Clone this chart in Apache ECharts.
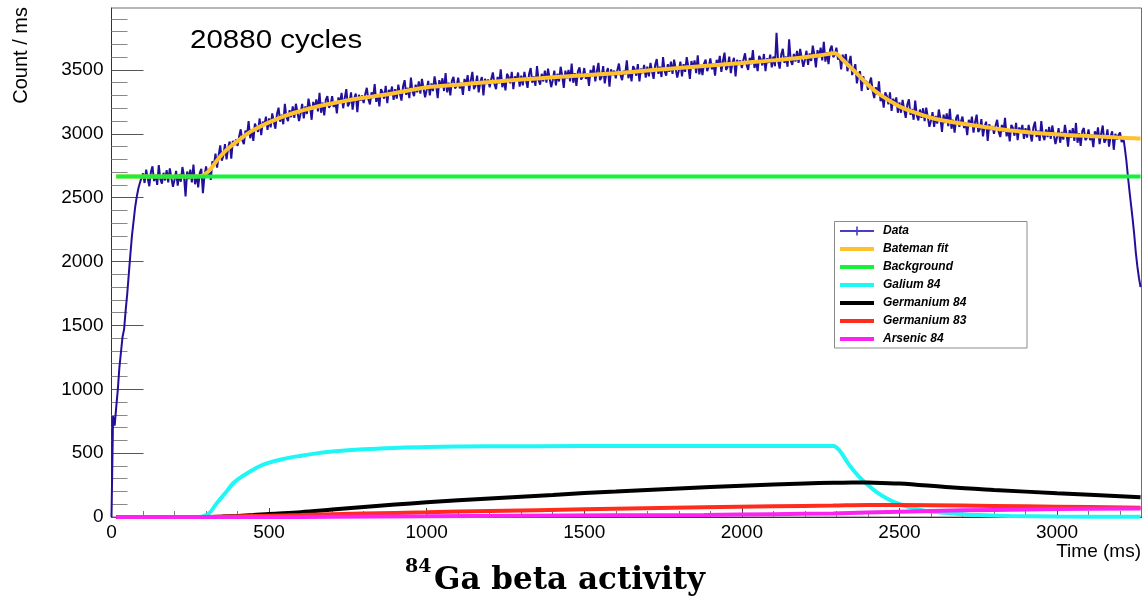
<!DOCTYPE html>
<html>
<head>
<meta charset="utf-8">
<title>84Ga beta activity</title>
<script src="https://cdn.jsdelivr.net/npm/echarts@6/dist/echarts.min.js"></script>
<style>
  html, body { margin: 0; padding: 0; background: #fff; }
  #chart { width: 1143px; height: 603px; }
</style>
</head>
<body>
<div id="chart"></div>
<script>
// ---------- axis ranges and ticks ----------
const X_MIN = 0, X_MAX = 3268;
const Y_MIN = 0, Y_MAX = 3985;
const X_MAJOR_TICKS = [0, 500, 1000, 1500, 2000, 2500, 3000];
const X_MINOR_TICKS = [100, 200, 300, 400, 600, 700, 800, 900, 1100, 1200, 1300, 1400,
  1600, 1700, 1800, 1900, 2100, 2200, 2300, 2400, 2600, 2700, 2800, 2900, 3100, 3200];
const Y_MAJOR_TICKS = [0, 500, 1000, 1500, 2000, 2500, 3000, 3500];
const Y_MINOR_TICKS = [100, 200, 300, 400, 600, 700, 800, 900, 1100, 1200, 1300, 1400,
  1600, 1700, 1800, 1900, 2100, 2200, 2300, 2400, 2600, 2700, 2800, 2900,
  3100, 3200, 3300, 3400, 3600, 3700, 3800, 3900];

// ---------- measured counts (Count / ms), 5 ms bins starting at 0 ms ----------
const DATA_T0 = 0;
const DATA_BIN = 5;
const DATA_COUNTS = [
  0, 790, 715, 860, 995, 1170, 1290, 1410, 1470, 1620, 1750, 1905, 2060, 2205, 2315, 2425, 2505, 2570, 2615, 2655,
  2690, 2615, 2720, 2650, 2590, 2700, 2745, 2630, 2680, 2600, 2755, 2645, 2610, 2695, 2635, 2715, 2620, 2730, 2655, 2585,
  2640, 2710, 2595, 2685, 2625, 2740, 2670, 2510, 2705, 2645, 2720, 2620, 2760, 2605, 2680, 2580, 2695, 2725, 2535, 2670,
  2745, 2670, 2725, 2640, 2785, 2750, 2845, 2735, 2830, 2910, 2790, 2830, 2920, 2800, 2890, 2940, 2805, 2945, 2910, 2955,
  2905, 2980, 3035, 2950, 2920, 3025, 2985, 3100, 2965, 3035, 2945, 3080, 3065, 3015, 3120, 2990, 3095, 3070, 3135, 3030,
  3120, 3050, 3160, 3095, 3040, 3155, 3205, 3095, 3150, 3075, 3235, 3130, 3100, 3185, 3130, 3215, 3125, 3235, 3165, 3100,
  3160, 3235, 3120, 3215, 3155, 3275, 3210, 3110, 3250, 3195, 3270, 3175, 3320, 3165, 3245, 3145, 3265, 3295, 3205, 3225,
  3295, 3210, 3255, 3160, 3285, 3240, 3320, 3200, 3280, 3350, 3215, 3240, 3325, 3190, 3275, 3315, 3170, 3305, 3260, 3300,
  3240, 3310, 3360, 3270, 3230, 3325, 3280, 3390, 3250, 3310, 3215, 3350, 3325, 3275, 3375, 3240, 3345, 3310, 3370, 3265,
  3350, 3275, 3385, 3315, 3260, 3370, 3420, 3305, 3360, 3280, 3440, 3330, 3295, 3385, 3325, 3410, 3315, 3430, 3355, 3285,
  3345, 3415, 3300, 3395, 3335, 3450, 3380, 3280, 3420, 3360, 3435, 3335, 3475, 3325, 3400, 3300, 3415, 3445, 3355, 3375,
  3440, 3355, 3400, 3305, 3430, 3380, 3460, 3335, 3420, 3485, 3350, 3375, 3455, 3325, 3405, 3445, 3300, 3430, 3390, 3425,
  3365, 3430, 3480, 3390, 3350, 3445, 3395, 3505, 3365, 3425, 3340, 3470, 3445, 3395, 3485, 3350, 3450, 3415, 3480, 3370,
  3455, 3380, 3485, 3420, 3360, 3470, 3515, 3400, 3450, 3375, 3530, 3420, 3385, 3470, 3410, 3495, 3400, 3510, 3435, 3365,
  3420, 3495, 3380, 3470, 3410, 3525, 3455, 3360, 3495, 3435, 3500, 3410, 3550, 3400, 3475, 3375, 3490, 3520, 3425, 3445,
  3515, 3430, 3475, 3375, 3500, 3450, 3535, 3410, 3490, 3555, 3420, 3445, 3530, 3395, 3475, 3515, 3370, 3505, 3460, 3495,
  3435, 3500, 3550, 3460, 3420, 3495, 3465, 3575, 3435, 3495, 3410, 3530, 3505, 3455, 3545, 3410, 3510, 3475, 3540, 3440,
  3525, 3450, 3555, 3490, 3430, 3540, 3585, 3470, 3525, 3445, 3600, 3490, 3455, 3545, 3485, 3565, 3470, 3580, 3510, 3440,
  3495, 3565, 3450, 3545, 3485, 3600, 3530, 3430, 3570, 3510, 3575, 3475, 3615, 3465, 3540, 3460, 3550, 3580, 3490, 3525,
  3590, 3505, 3550, 3455, 3580, 3530, 3610, 3485, 3570, 3635, 3500, 3525, 3605, 3475, 3555, 3595, 3450, 3580, 3540, 3575,
  3515, 3580, 3630, 3540, 3500, 3595, 3545, 3655, 3515, 3575, 3490, 3610, 3585, 3535, 3625, 3490, 3590, 3555, 3620, 3520,
  3605, 3530, 3790, 3570, 3510, 3620, 3665, 3555, 3605, 3525, 3740, 3575, 3540, 3625, 3565, 3650, 3555, 3665, 3590, 3525,
  3580, 3650, 3540, 3630, 3570, 3690, 3620, 3520, 3655, 3600, 3675, 3575, 3720, 3565, 3640, 3545, 3660, 3690, 3600, 3620,
  3675, 3580, 3615, 3505, 3620, 3560, 3625, 3490, 3555, 3610, 3460, 3475, 3545, 3395, 3465, 3490, 3335, 3450, 3395, 3415,
  3345, 3400, 3440, 3335, 3280, 3365, 3305, 3410, 3255, 3305, 3205, 3325, 3295, 3230, 3325, 3180, 3275, 3230, 3285, 3165,
  3245, 3165, 3265, 3190, 3125, 3230, 3270, 3150, 3195, 3110, 3260, 3145, 3105, 3190, 3125, 3200, 3100, 3205, 3130, 3055,
  3105, 3170, 3055, 3140, 3080, 3190, 3120, 3015, 3150, 3085, 3160, 3060, 3195, 3040, 3110, 3010, 3125, 3150, 3055, 3070,
  3135, 3045, 3090, 2990, 3110, 3060, 3135, 3010, 3090, 3150, 3015, 3035, 3115, 2980, 3055, 3095, 2945, 3075, 3030, 3060,
  3000, 3065, 3110, 3015, 2975, 3070, 3015, 3125, 2980, 3035, 2940, 3070, 3045, 2985, 3085, 2950, 3050, 3010, 3070, 2960,
  3045, 2970, 3070, 3000, 2940, 3050, 3095, 2975, 3025, 2945, 3100, 2990, 2950, 3035, 2975, 3055, 2960, 3065, 2990, 2920,
  2975, 3045, 2930, 3015, 2955, 3070, 3000, 2900, 3030, 2970, 3045, 2945, 3085, 2930, 3005, 2905, 3020, 3045, 2950, 2970,
  3035, 2950, 2995, 2895, 3020, 2970, 3050, 2920, 3000, 3065, 2930, 2955, 3035, 2900, 2980, 3020, 2875, 3000, 2955, 2990,
  3010, 2935, 2975, 2890, 2790, 2665, 2550, 2440, 2330, 2210, 2070, 1960, 1870, 1800
];

// ---------- Bateman fit and its components (time in ms, value in Count / ms) ----------
const FIT_T = [15, 100, 200, 280, 290, 300, 312, 328, 345, 365, 385, 407, 440, 471, 505, 544, 580, 619, 660, 703,
  745, 800, 850, 900, 950, 1000, 1100, 1200, 1300, 1400, 1500, 1600, 1700, 1800, 1900, 2000, 2100, 2200, 2250, 2295,
  2320, 2342, 2370, 2395, 2420, 2448, 2475, 2501, 2550, 2606, 2660, 2712, 2765, 2819, 2870, 2924, 2980, 3030, 3085,
  3136, 3190, 3247, 3265];
const FIT_V = [2665, 2665, 2665, 2668, 2675, 2690, 2717, 2770, 2822, 2874, 2915, 2957, 3015, 3056, 3095, 3135, 3165, 3192, 3218, 3240,
  3260, 3282, 3300, 3320, 3343, 3365, 3385, 3405, 3425, 3442, 3458, 3475, 3495, 3515, 3535, 3555, 3575, 3600, 3615, 3631,
  3580, 3526, 3460, 3396, 3340, 3291, 3250, 3213, 3165, 3122, 3095, 3075, 3055, 3036, 3022, 3009, 2998, 2991, 2984,
  2978, 2971, 2965, 2963];

const BKG_T = [15, 3265];
const BKG_V = [2665, 2665];

const GA84_T = [15, 280, 295, 312, 330, 345, 365, 386, 410, 439, 465, 492, 545, 597, 650, 700, 800, 900, 1000, 1200,
  1500, 2000, 2290, 2310, 2340, 2370, 2400, 2430, 2460, 2500, 2550, 2600, 2660, 2750, 2850, 3000, 3265];
const GA84_V = [0, 0, 10, 34, 95, 140, 200, 264, 310, 355, 392, 420, 454, 478, 498, 512, 530, 541, 548, 553,
  555, 556, 556, 520, 410, 320, 250, 190, 145, 100, 65, 42, 30, 15, 8, 4, 2];

const GE84_T = [15, 300, 350, 400, 450, 500, 600, 700, 800, 900, 1000, 1200, 1400, 1500, 1600, 1800, 2000, 2200,
  2290, 2350, 2400, 2500, 2660, 2800, 3000, 3265];
const GE84_V = [0, 0, 3, 8, 15, 24, 38, 58, 78, 97, 115, 145, 172, 187, 199, 224, 245, 262, 268, 271, 270, 262,
  232, 212, 186, 155];

const GE83_T = [15, 290, 400, 500, 600, 800, 1000, 1200, 1500, 1880, 2100, 2290, 2400, 2600, 2800, 3000, 3265];
const GE83_V = [0, 0, 5, 10, 15, 27, 37, 47, 60, 76, 84, 90, 94, 92, 87, 81, 73];

const AS84_T = [15, 500, 700, 1000, 1300, 1600, 1880, 2100, 2290, 2500, 2700, 2900, 3000, 3265];
const AS84_V = [0, 0, 2, 5, 9, 13, 16, 22, 28, 42, 52, 59, 62, 66];

// ---------- styling ----------
const SANS = 'Liberation Sans, Arial, Helvetica, sans-serif';
const COLORS = {
  data: '#22109a',
  dataLegend: '#4a3cc4',
  fit: '#fdc22e',
  bkg: '#14f23a',
  ga84: '#1ff6f6',
  ge84: '#000000',
  ge83: '#ff2c1e',
  as84: '#fb22f2'
};

function pairs(t, v) { return t.map((x, i) => [x, v[i]]); }
const dataPoints = DATA_COUNTS.map((v, i) => [DATA_T0 + i * DATA_BIN, v]);

function curve(name, t, v, color, smooth) {
  return {
    name: name,
    type: 'line',
    data: pairs(t, v),
    showSymbol: false,
    symbol: 'none',
    smooth: smooth ? 0.35 : false,
    lineStyle: { color: color, width: 4 },
    itemStyle: { color: color },
    emphasis: { disabled: true },
    animation: false,
    z: 3
  };
}

const plainNumber = (v) => String(v);

const LINE_ICON = 'path://M0,0M38,12M0,4L34,4L34,8L0,8Z';
const DATA_ICON = 'path://M0,0M38,12M0,5L34,5L34,7L0,7ZM16.2,1.5L17.8,1.5L17.8,10.5L16.2,10.5Z';

const chart = echarts.init(document.getElementById('chart'), null, { renderer: 'canvas' });

const option = {
  animation: false,
  backgroundColor: '#ffffff',
  grid: {
    left: 111.5, right: 1.5, top: 8, bottom: 86,
    show: true, borderColor: '#6e6e6e', borderWidth: 1, backgroundColor: 'transparent'
  },
  xAxis: [
    {
      type: 'value', min: X_MIN, max: X_MAX,
      axisLine: { show: true, onZero: false, lineStyle: { color: '#333', width: 1 } },
      axisTick: { show: true, inside: true, length: 9, customValues: X_MAJOR_TICKS, lineStyle: { color: '#444' } },
      axisLabel: { customValues: X_MAJOR_TICKS, formatter: plainNumber, margin: 6, color: '#000', fontFamily: SANS, fontSize: 19 },
      splitLine: { show: false }
    },
    {
      type: 'value', min: X_MIN, max: X_MAX, position: 'bottom',
      axisLine: { show: false, onZero: false },
      axisTick: { show: true, inside: true, length: 6, customValues: X_MINOR_TICKS, lineStyle: { color: '#777' } },
      axisLabel: { show: false },
      splitLine: { show: false }
    }
  ],
  yAxis: [
    {
      type: 'value', min: Y_MIN, max: Y_MAX,
      axisLine: { show: true, onZero: false, lineStyle: { color: '#333', width: 1 } },
      axisTick: { show: true, inside: true, length: 32, customValues: Y_MAJOR_TICKS, lineStyle: { color: '#555' } },
      axisLabel: { customValues: Y_MAJOR_TICKS, formatter: plainNumber, margin: 8, color: '#000', fontFamily: SANS, fontSize: 19 },
      splitLine: { show: false }
    },
    {
      type: 'value', min: Y_MIN, max: Y_MAX, position: 'left',
      axisLine: { show: false, onZero: false },
      axisTick: { show: true, inside: true, length: 16, customValues: Y_MINOR_TICKS, lineStyle: { color: '#888' } },
      axisLabel: { show: false },
      splitLine: { show: false }
    }
  ],
  legend: {
    orient: 'vertical',
    left: 840, top: 225,
    padding: 0,
    itemWidth: 38, itemHeight: 12, itemGap: 6,
    selectedMode: false,
    itemStyle: { borderWidth: 0 },
    textStyle: { color: '#000', fontFamily: SANS, fontSize: 12, fontWeight: 'bold', fontStyle: 'italic', padding: [0, 0, 0, 0] },
    data: [
      { name: 'Data', icon: DATA_ICON, itemStyle: { color: COLORS.dataLegend, borderWidth: 0 } },
      { name: 'Bateman fit', icon: LINE_ICON, itemStyle: { color: COLORS.fit, borderWidth: 0 } },
      { name: 'Background', icon: LINE_ICON, itemStyle: { color: COLORS.bkg, borderWidth: 0 } },
      { name: 'Galium 84', icon: LINE_ICON, itemStyle: { color: COLORS.ga84, borderWidth: 0 } },
      { name: 'Germanium 84', icon: LINE_ICON, itemStyle: { color: COLORS.ge84, borderWidth: 0 } },
      { name: 'Germanium 83', icon: LINE_ICON, itemStyle: { color: COLORS.ge83, borderWidth: 0 } },
      { name: 'Arsenic 84', icon: LINE_ICON, itemStyle: { color: COLORS.as84, borderWidth: 0 } }
    ],
    z: 10
  },
  graphic: [
    // legend frame
    {
      type: 'rect', z: 1, silent: true,
      shape: { x: 834.5, y: 221.5, width: 192.5, height: 126.5 },
      style: { fill: '#ffffff', stroke: '#8c8c8c', lineWidth: 1 }
    },
    // cycle count
    {
      type: 'text', x: 190, y: 41, scaleX: 1.18, silent: true,
      style: { text: '20880 cycles', font: '25px ' + SANS, fill: '#000', align: 'left', verticalAlign: 'middle' }
    },
    // y axis title
    {
      type: 'text', x: 21, y: 7, rotation: Math.PI / 2, silent: true,
      style: { text: 'Count / ms', font: '20px ' + SANS, fill: '#000', align: 'right', verticalAlign: 'middle' }
    },
    // x axis title
    {
      type: 'text', x: 1141, y: 552, silent: true,
      style: { text: 'Time (ms)', font: '19px ' + SANS, fill: '#000', align: 'right', verticalAlign: 'middle' }
    },
    // caption: mass number superscript
    {
      type: 'text', x: 405, y: 567, silent: true,
      style: { text: '84', font: 'bold 19px DejaVu Serif, serif', fill: '#000', align: 'left', verticalAlign: 'middle' }
    },
    // caption: element and description
    {
      type: 'text', x: 434, y: 581, silent: true,
      style: { text: 'Ga beta activity', font: 'bold 31px DejaVu Serif, serif', fill: '#000', align: 'left', verticalAlign: 'middle' }
    }
  ],
  series: [
    {
      name: 'Data',
      type: 'line',
      data: dataPoints,
      showSymbol: false,
      symbol: 'none',
      lineStyle: { color: COLORS.data, width: 2 },
      itemStyle: { color: COLORS.dataLegend },
      emphasis: { disabled: true },
      animation: false,
      z: 2
    },
    curve('Bateman fit', FIT_T, FIT_V, COLORS.fit, true),
    curve('Background', BKG_T, BKG_V, COLORS.bkg, false),
    curve('Galium 84', GA84_T, GA84_V, COLORS.ga84, true),
    curve('Germanium 84', GE84_T, GE84_V, COLORS.ge84, true),
    curve('Germanium 83', GE83_T, GE83_V, COLORS.ge83, true),
    curve('Arsenic 84', AS84_T, AS84_V, COLORS.as84, true)
  ]
};

chart.setOption(option);
</script>
</body>
</html>
